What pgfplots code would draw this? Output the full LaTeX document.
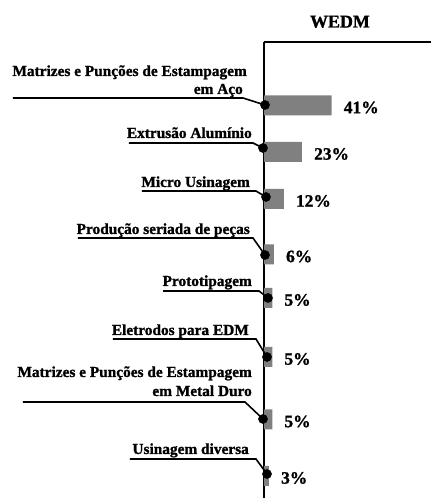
\documentclass[border=0pt]{standalone}
\usepackage{fontspec}
\setmainfont{Liberation Serif}
\newfontfamily\hb{Liberation Serif Bold}[FakeBold=1.2]
\usepackage{pgfplots}
\pgfplotsset{compat=1.18}
\usetikzlibrary{calc}
\tikzset{lbl/.style={font=\hb\fontsize{15.4}{18}\selectfont, inner sep=0pt, anchor=base east}}
\begin{document}
\begin{tikzpicture}
\begin{axis}[
  name=ax,
  width=167bp, height=456bp, scale only axis,
  xmin=0, xmax=101.21, ymin=-498, ymax=-42,
  axis x line*=top, axis y line*=left,
  axis line style={-, line width=1.3bp, black},
  xtick=\empty, ytick=\empty,
  clip=false,
]
% bars
\addplot[xbar, bar width=20bp, fill=black!50, draw=none,
  point meta=explicit symbolic, nodes near coords,
  every node near coord/.append style={anchor=west, inner sep=0pt, xshift=12bp, yshift=-2bp,
    font=\hb\fontsize{17.5}{20}\selectfont, text=black}]
  coordinates {
  (41,-105.5) [41\%]
  (23,-152) [23\%]
  (12,-199) [12\%]
  (6,-254.5) [6\%]
  (5,-298) [5\%]
  (5,-357) [5\%]
  (5,-419.5) [5\%]
  (3,-476) [3\%]
  };
% leader lines
\addplot[black, line width=1.6bp, no marks] coordinates {(-152.12,-98) (-12.73,-98) (0.61,-105)};
\addplot[black, line width=1.6bp, no marks] coordinates {(-81.82,-143) (-6.67,-143) (-0.61,-148)};
\addplot[black, line width=1.6bp, no marks] coordinates {(-73.94,-191) (-4.85,-191) (1.21,-197)};
\addplot[black, line width=1.6bp, no marks] coordinates {(-112.73,-238) (-6.67,-238) (0.61,-255)};
\addplot[black, line width=1.6bp, no marks] coordinates {(-61.21,-291) (-3.03,-291) (2.42,-298)};
\addplot[black, line width=1.6bp, no marks] coordinates {(-91.52,-339) (-4.85,-339) (1.82,-357)};
\addplot[black, line width=1.6bp, no marks] coordinates {(-146.06,-402) (-11.52,-402) (-0.61,-419)};
\addplot[black, line width=1.6bp, no marks] coordinates {(-81.21,-459) (-4.85,-459) (1.82,-474)};
% dots
\addplot[only marks, mark=*, mark size=4.6bp, black] coordinates {
  (0.61,-105) (-0.61,-148) (1.21,-197) (0.61,-255) (2.42,-298) (1.82,-357) (-0.61,-419) (1.82,-474)};
% labels
\node[lbl] at (axis cs:-10.30,-76) {Matrizes e Punções de Estampagem};
\node[lbl] at (axis cs:-12.73,-94) {em Aço};
\node[lbl] at (axis cs:-7.27,-138) {Extrusão Alumínio};
\node[lbl] at (axis cs:-8.48,-187) {Micro Usinagem};
\node[lbl] at (axis cs:-8.48,-234) {Produção seriada de peças};
\node[lbl] at (axis cs:-7.27,-286) {Prototipagem};
\node[lbl] at (axis cs:-9.09,-335) {Eletrodos para EDM};
\node[lbl] at (axis cs:-7.27,-377) {Matrizes e Punções de Estampagem};
\node[lbl] at (axis cs:-7.27,-396) {em Metal Duro};
\node[lbl] at (axis cs:-9.09,-454) {Usinagem diversa};
\node[font=\hb\fontsize{18}{20}\selectfont, inner sep=0pt, anchor=base] at (axis cs:46.06,-27.5) {WEDM};
\end{axis}
\pgfresetboundingbox
\path[use as bounding box] ($(ax.south west)+(-264bp,0)$) rectangle ($(ax.north east)+(0,42bp)$);
\end{tikzpicture}
\end{document}
